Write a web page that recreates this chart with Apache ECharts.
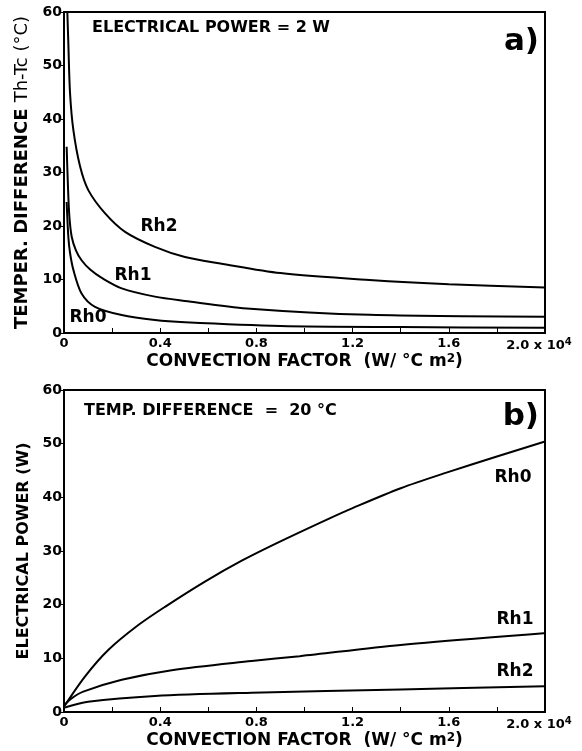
<!DOCTYPE html>
<html><head><meta charset="utf-8">
<script src="https://cdn.jsdelivr.net/npm/echarts@6/dist/echarts.min.js"></script>
<style>html,body{margin:0;padding:0;background:#fff}#c{width:582px;height:751px}</style>
</head><body><div id="c"></div>
<script>
// ---- data (x in units of 10^4 W/°C m²) ----
// Panel a) : temperature difference Th-Tc (°C), electrical power = 2 W
const aRh2X = [0.014, 0.018, 0.025, 0.039, 0.067, 0.101, 0.17, 0.254, 0.378, 0.503, 0.65, 0.9, 1.27, 1.6, 2.0];
const aRh2Y = [59.8, 54.2, 44.9, 37.9, 31.1, 26.7, 22.4, 18.9, 16.1, 14.2, 13.0, 11.2, 9.9, 9.1, 8.5];
const aRh1X = [0.011, 0.016, 0.022, 0.032, 0.05, 0.073, 0.11, 0.157, 0.24, 0.378, 0.503, 0.76, 1.27, 2.0];
const aRh1Y = [34.8, 28.0, 22.0, 18.0, 15.4, 13.6, 11.8, 10.3, 8.35, 6.8, 6.0, 4.6, 3.4, 3.05];
const aRh0X = [0.011, 0.018, 0.025, 0.039, 0.073, 0.129, 0.24, 0.378, 0.503, 0.9, 1.4, 2.0];
const aRh0Y = [24.5, 18.0, 15.0, 11.8, 7.4, 4.9, 3.36, 2.43, 2.0, 1.3, 1.1, 1.0];
// Panel b) : electrical power (W), temperature difference = 20 °C
const bRh0X = [0, 0.087, 0.184, 0.309, 0.42, 0.586, 0.739, 0.9, 1.1, 1.2, 1.4, 1.59, 1.8, 2.0];
const bRh0Y = [1.0, 6.6, 11.55, 16.2, 19.6, 24.3, 28.2, 31.8, 36.0, 38.0, 41.7, 44.6, 47.6, 50.4];
const bRh1X = [0, 0.03, 0.08, 0.24, 0.448, 0.78, 0.98, 1.4, 2.0];
const bRh1Y = [1.2, 2.5, 3.8, 6.0, 7.8, 9.5, 10.4, 12.5, 14.7];
const bRh2X = [0, 0.1, 0.378, 0.78, 1.4, 2.0];
const bRh2Y = [0.8, 1.9, 3.0, 3.6, 4.2, 4.8];
// tick labels
const xLabelValues = [0, 0.4, 0.8, 1.2, 1.6, 2.0];
const xLabelTexts = ['0', '0.4', '0.8', '1.2', '1.6', '2.0 x 10'];
const seriesNames = ['Rh0', 'Rh1', 'Rh2'];

const FF = 'DejaVu Sans';
const zip = (xs, ys) => xs.map((x, i) => [x, ys[i]]);

function xFmt(v) {
  const i = xLabelValues.findIndex(t => Math.abs(t - v) < 1e-6);
  if (i < 0) return '';
  if (i === xLabelValues.length - 1) return '{n|' + xLabelTexts[i] + '}{sup|4}{pad|}';
  return '{n|' + xLabelTexts[i] + '}';
}

function xAxis(idx) {
  return {
    type: 'value', gridIndex: idx, min: 0, max: 2.0, interval: 0.2,
    name: '{n|CONVECTION FACTOR  (W/ °C m}{sup|2}{n|)}',
    nameLocation: 'middle', nameGap: 20,
    nameTextStyle: { color: '#000', fontFamily: FF, fontSize: 17, fontWeight: 'bold',
      rich: { n: { fontFamily: FF, fontSize: 17, fontWeight: 'bold', color: '#000' },
              sup: { fontFamily: FF, fontSize: 12, fontWeight: 'bold', color: '#000', verticalAlign: 'top', padding: [0, 0, 6, 0] } } },
    axisLine: { show: true, lineStyle: { color: '#000', width: 2 } },
    axisTick: { show: true, inside: true, length: 5, lineStyle: { color: '#000', width: 1 } },
    axisLabel: { color: '#000', fontFamily: FF, fontSize: 13, fontWeight: 'bold', margin: 4,
      formatter: xFmt, showMaxLabel: true,
      rich: { n: { fontFamily: FF, fontSize: 13, fontWeight: 'bold', color: '#000' },
              sup: { fontFamily: FF, fontSize: 10, fontWeight: 'bold', color: '#000', verticalAlign: 'top', padding: [0, 0, 7, 0] },
              pad: { width: 12 } } },
    splitLine: { show: false }
  };
}

function yAxis(idx, name, size, rich, gap) {
  return {
    type: 'value', gridIndex: idx, min: 0, max: 60, interval: 10,
    name: name, nameLocation: 'middle', nameRotate: 90, nameGap: gap,
    nameTextStyle: { color: '#000', fontFamily: FF, fontSize: size, fontWeight: 'bold', rich: rich },
    axisLine: { show: true, lineStyle: { color: '#000', width: 2 } },
    axisTick: { show: true, inside: false, length: 3, lineStyle: { color: '#000', width: 1 } },
    axisLabel: { color: '#000', fontFamily: FF, fontSize: 14, fontWeight: 'bold', margin: 2 },
    splitLine: { show: false }
  };
}

function line(name, xi, data) {
  return {
    name: name, type: 'line', xAxisIndex: xi, yAxisIndex: xi, data: data,
    showSymbol: false, smooth: 0.3, clip: true,
    lineStyle: { color: '#000', width: 2 }, silent: true, animation: false
  };
}

function txt(x, y, s, size, weight, align) {
  return { type: 'text', x: x, y: y, silent: true,
    style: { text: s, fill: '#000', font: (weight || 'normal') + ' ' + size + 'px "' + FF + '"',
      textAlign: align || 'left', textVerticalAlign: 'middle' } };
}

const chart = echarts.init(document.getElementById('c'), null, { renderer: 'canvas' });
chart.setOption({
  backgroundColor: '#fff',
  animation: false,
  grid: [
    { left: 64, top: 12, width: 481, height: 321, show: true, borderColor: '#000', borderWidth: 2, backgroundColor: 'transparent' },
    { left: 64, top: 390, width: 481, height: 322, show: true, borderColor: '#000', borderWidth: 2, backgroundColor: 'transparent' }
  ],
  xAxis: [xAxis(0), xAxis(1)],
  yAxis: [
    yAxis(0, '{b|TEMPER. DIFFERENCE }{r|Th-Tc (°C)}', 18, {
      b: { fontFamily: FF, fontSize: 18, fontWeight: 'bold', color: '#000' },
      r: { fontFamily: FF, fontSize: 18, fontWeight: 'normal', color: '#000' } }, 30),
    yAxis(1, 'ELECTRICAL POWER (W)', 16, {}, 32)
  ],
  series: [
    line(seriesNames[2], 0, zip(aRh2X, aRh2Y)),
    line(seriesNames[1], 0, zip(aRh1X, aRh1Y)),
    line(seriesNames[0], 0, zip(aRh0X, aRh0Y)),
    line(seriesNames[0], 1, zip(bRh0X, bRh0Y)),
    line(seriesNames[1], 1, zip(bRh1X, bRh1Y)),
    line(seriesNames[2], 1, zip(bRh2X, bRh2Y))
  ],
  graphic: [
    txt(92, 28, 'ELECTRICAL POWER = 2 W', 16, 'bold'),
    txt(539, 42, 'a)', 31, 'bold', 'right'),
    txt(84, 411, 'TEMP. DIFFERENCE  =  20 °C', 16, 'bold'),
    txt(539, 417, 'b)', 31, 'bold', 'right'),
    txt(159, 227, seriesNames[2], 17, 'bold', 'center'),
    txt(133, 276, seriesNames[1], 17, 'bold', 'center'),
    txt(88, 318, seriesNames[0], 17, 'bold', 'center'),
    txt(513, 478, seriesNames[0], 17, 'bold', 'center'),
    txt(515, 620, seriesNames[1], 17, 'bold', 'center'),
    txt(515, 672, seriesNames[2], 17, 'bold', 'center')
  ]
});
</script></body></html>
